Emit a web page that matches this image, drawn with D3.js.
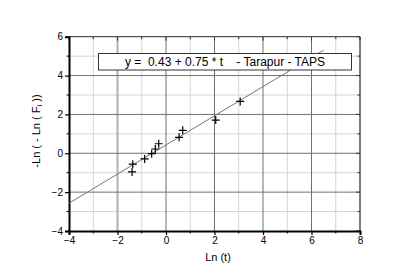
<!DOCTYPE html>
<html><head><meta charset="utf-8">
<script src="https://cdn.jsdelivr.net/npm/d3@7"></script>
<style>body{margin:0;background:#fff}svg{display:block}text{font-family:"Liberation Sans",Arial,sans-serif}</style>
</head><body>
<script>
const xVals = [-1.40, -1.37, -0.88, -0.59, -0.44, -0.30, 0.54, 0.69, 2.05, 3.06];
const yVals = [-0.96, -0.56, -0.29, -0.02, 0.22, 0.49, 0.82, 1.18, 1.71, 2.67];
const fitIntercept = 0.43, fitSlope = 0.75;
const fitRange = [-4, 6.5];
const xTicks = [-4, -2, 0, 2, 4, 6, 8];
const yTicks = [-4, -2, 0, 2, 4, 6];
const xMinor = [-3, -1, 1, 3, 5, 7];
const yMinor = [-3, -1, 1, 3, 5];
const legendText = "y =  0.43 + 0.75 * t    - Tarapur - TAPS";

const W = 415, H = 277;
const svg = d3.select("body").append("svg").attr("width", W).attr("height", H);
const x = d3.scaleLinear().domain([-4, 8]).range([69, 360]);
const y = d3.scaleLinear().domain([-4, 6]).range([231, 36.7]);

// grid
const g = svg.append("g");
xMinor.forEach(v => g.append("line").attr("x1", x(v)).attr("x2", x(v)).attr("y1", y(-4)).attr("y2", y(6)).attr("stroke", "#d4d4d4").attr("stroke-width", 1));
yMinor.forEach(v => g.append("line").attr("y1", y(v)).attr("y2", y(v)).attr("x1", x(-4)).attr("x2", x(8)).attr("stroke", "#d4d4d4").attr("stroke-width", 1));
xTicks.slice(1, -1).forEach(v => g.append("line").attr("x1", x(v)).attr("x2", x(v)).attr("y1", y(-4)).attr("y2", y(6)).attr("stroke", v === -2 ? "#b0b0b0" : "#707070").attr("stroke-width", v === -2 ? 2 : 1));
yTicks.slice(1, -1).forEach(v => g.append("line").attr("y1", y(v)).attr("y2", y(v)).attr("x1", x(-4)).attr("x2", x(8)).attr("stroke", "#707070").attr("stroke-width", 1));

// frame top/right
svg.append("line").attr("x1", x(-4)).attr("x2", x(8)).attr("y1", y(6)).attr("y2", y(6)).attr("stroke", "#555").attr("stroke-width", 1.2);
svg.append("line").attr("x1", x(8)).attr("x2", x(8)).attr("y1", y(6)).attr("y2", y(-4)).attr("stroke", "#555").attr("stroke-width", 1.5);
// inward ticks top/right
xTicks.concat(xMinor).forEach(v => svg.append("line").attr("x1", x(v)).attr("x2", x(v)).attr("y1", y(6)).attr("y2", y(6) + (xTicks.includes(v) ? 4 : 2.5)).attr("stroke", "#333"));
yTicks.concat(yMinor).forEach(v => svg.append("line").attr("y1", y(v)).attr("y2", y(v)).attr("x1", x(8)).attr("x2", x(8) - (yTicks.includes(v) ? 4 : 2.5)).attr("stroke", "#333"));

// axes
const xAxis = d3.axisBottom(x).tickValues(xTicks).tickSize(4).tickPadding(2).tickFormat(d3.format("d"));
const yAxis = d3.axisLeft(y).tickValues(yTicks).tickSize(4).tickPadding(2).tickFormat(d3.format("d"));
const gx = svg.append("g").attr("transform", `translate(0,${y(-4)})`).call(xAxis);
const gy = svg.append("g").attr("transform", `translate(${x(-4)},0)`).call(yAxis);
[gx, gy].forEach(a => {
  a.select(".domain").attr("stroke", "#000").attr("stroke-width", 2);
  a.selectAll(".tick line").attr("stroke", "#000").attr("stroke-width", 1.2);
  a.selectAll("text").attr("font-size", 10).attr("fill", "#000").style("font-family", '"Liberation Sans",Arial,sans-serif');
});
xMinor.forEach(v => svg.append("line").attr("x1", x(v)).attr("x2", x(v)).attr("y1", y(-4)).attr("y2", y(-4) + 2.5).attr("stroke", "#000"));
yMinor.forEach(v => svg.append("line").attr("y1", y(v)).attr("y2", y(v)).attr("x1", x(-4)).attr("x2", x(-4) - 2.5).attr("stroke", "#000"));

// fit line
svg.append("line")
  .attr("x1", x(fitRange[0])).attr("y1", y(fitIntercept + fitSlope * fitRange[0]))
  .attr("x2", x(fitRange[1])).attr("y2", y(fitIntercept + fitSlope * fitRange[1]))
  .attr("stroke", "#777").attr("stroke-width", 1);

// points
const pts = svg.append("g");
xVals.forEach((v, i) => {
  const cx = x(v), cy = y(yVals[i]);
  pts.append("path").attr("d", `M${cx - 4},${cy}H${cx + 4}M${cx},${cy - 4}V${cy + 4}`).attr("stroke", "#000").attr("stroke-width", 1.2);
});

// legend box
svg.append("rect").attr("x", 98.5).attr("y", 53.5).attr("width", 253).attr("height", 16.5).attr("fill", "#fff").attr("stroke", "#333").attr("stroke-width", 1);
svg.append("text").attr("x", 225).attr("y", 66).attr("text-anchor", "middle").attr("font-size", 12).style("white-space", "pre").attr("xml:space", "preserve").text(legendText);

// axis titles
svg.append("text").attr("x", 218).attr("y", 261).attr("text-anchor", "middle").attr("font-size", 11).text("Ln (t)");
const yl = svg.append("text").attr("transform", "translate(40,131) rotate(-90)").attr("text-anchor", "middle").attr("font-size", 11).style("white-space", "pre");
yl.append("tspan").text("-Ln ( - Ln ( F");
yl.append("tspan").attr("font-size", 8).attr("dy", 2).text("i");
yl.append("tspan").attr("dy", -2).text(" ))");
</script>
</body></html>
